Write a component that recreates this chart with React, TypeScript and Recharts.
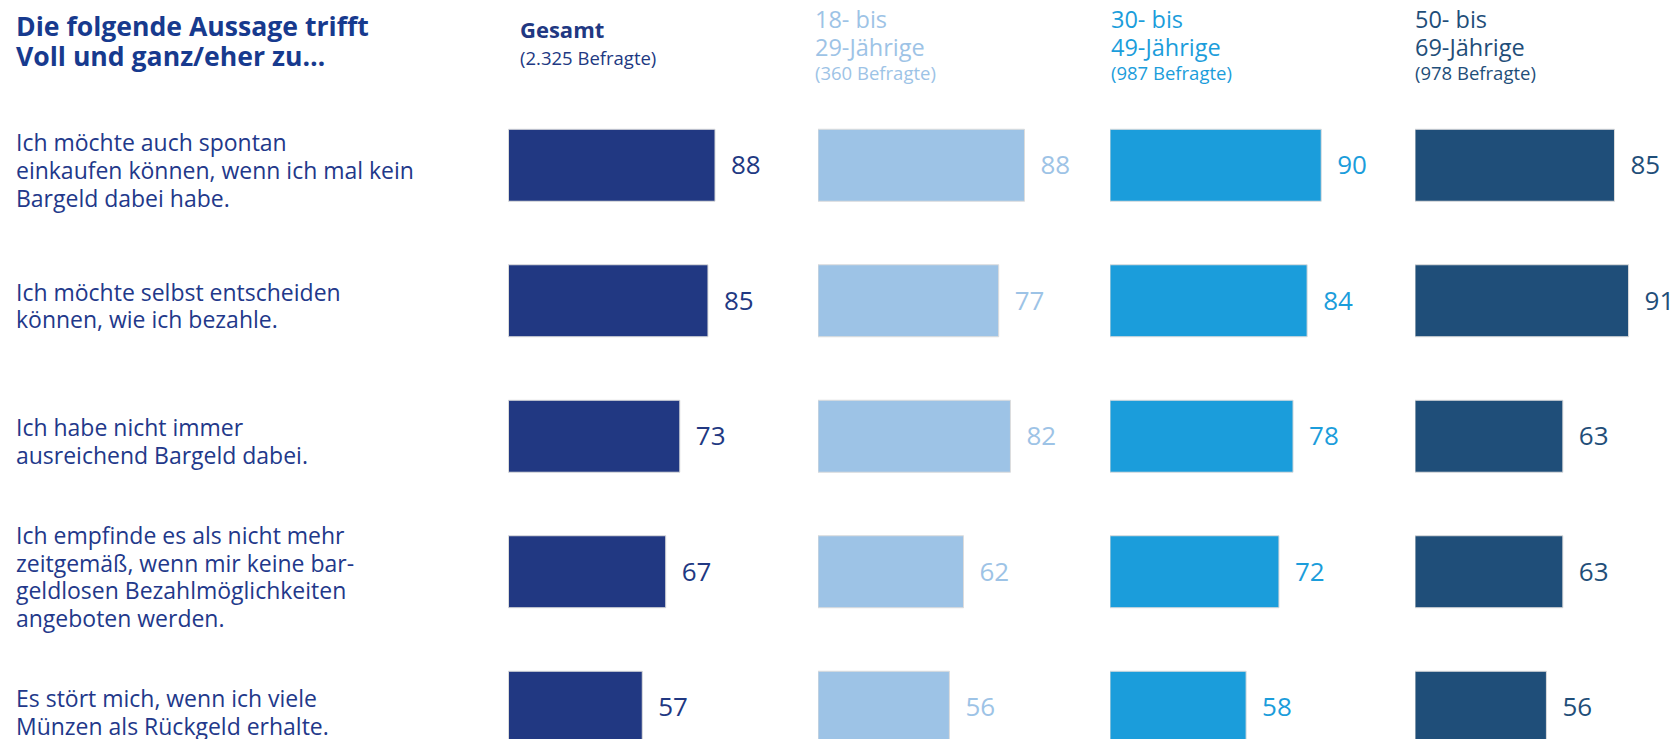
import React from 'react';
import { BarChart, Bar, XAxis, YAxis, LabelList } from 'recharts';

// statements, line breaks as in the original slide
const categories = [
  'Ich möchte auch spontan\neinkaufen können, wenn ich mal kein\nBargeld dabei habe.',
  'Ich möchte selbst entscheiden\nkönnen, wie ich bezahle.',
  'Ich habe nicht immer\nausreichend Bargeld dabei.',
  'Ich empfinde es als nicht mehr\nzeitgemäß, wenn mir keine bar-\ngeldlosen Bezahlmöglichkeiten\nangeboten werden.',
  'Es stört mich, wenn ich viele\nMünzen als Rückgeld erhalte.',
];

const gesamt = [88, 85, 73, 67, 57];
const age18to29 = [88, 77, 82, 62, 56];
const age30to49 = [90, 84, 78, 72, 58];
const age50to69 = [85, 91, 63, 63, 56];

const titleLines = ['Die folgende Aussage trifft', 'Voll und ganz/eher zu…'];
const groupTitles = [['Gesamt'], ['18- bis', '29-Jährige'], ['30- bis', '49-Jährige'], ['50- bis', '69-Jährige']];
const groupCounts = ['(2.325 Befragte)', '(360 Befragte)', '(987 Befragte)', '(978 Befragte)'];

const FONT = '"Open Sans", sans-serif';
const NAVY = '#22388A';

const groups = [
  { values: gesamt, color: '#213882', left: 508.5 },
  { values: age18to29, color: '#9DC3E6', left: 817.5 },
  { values: age30to49, color: '#1B9DDB', left: 1110 },
  { values: age50to69, color: '#1F4E79', left: 1414.5 },
];

const headerLeft = [520, 815, 1111, 1415];

const PLOT_W = 234.7;
const TOP = 97.25;
const BAND = 135.5;
const CHART_H = TOP + BAND * categories.length;

const CategoryTick = ({ y, payload }: any) => {
  const lines = String(payload.value).split('\n');
  const lh = 27.7;
  const startY = y + 5 - ((lines.length - 1) * lh) / 2;
  return (
    <text x={16} y={startY} fill={NAVY} fontSize={23} fontFamily={FONT}>
      {lines.map((l, i) => (
        <tspan key={i} x={16} y={startY + i * lh} dominantBaseline="central">
          {l}
        </tspan>
      ))}
    </text>
  );
};

const App = () => {
  return (
    <div
      style={{
        position: 'relative',
        width: 1675,
        height: 739,
        overflow: 'hidden',
        background: '#fff',
        fontFamily: FONT,
      }}
    >
      <style>{'body{margin:0}'}</style>

      <div
        style={{
          position: 'absolute',
          left: 16,
          top: 10.5,
          fontWeight: 700,
          fontSize: 26.6,
          lineHeight: '30px',
          color: '#173A8E',
          whiteSpace: 'nowrap',
        }}
      >
        {titleLines.map((t) => (
          <div key={t}>{t}</div>
        ))}
      </div>

      {groups.map((g, gi) => {
        const isFirst = gi === 0;
        const data = categories.map((label, i) => ({ label, value: g.values[i] }));
        const chartLeft = isFirst ? 0 : g.left;
        const yWidth = isFirst ? g.left : 0;
        const titleTop = isFirst ? 14 : 5;
        return (
          <React.Fragment key={gi}>
            <div
              style={{
                position: 'absolute',
                left: headerLeft[gi],
                top: titleTop,
                color: g.color,
                fontSize: isFirst ? 22 : 23.5,
                fontWeight: isFirst ? 700 : 400,
                lineHeight: isFirst ? '30px' : '28px',
                whiteSpace: 'nowrap',
              }}
            >
              {groupTitles[gi].map((t) => (
                <div key={t}>{t}</div>
              ))}
            </div>
            <div
              style={{
                position: 'absolute',
                left: headerLeft[gi],
                top: isFirst ? 46 : 60.5,
                color: g.color,
                fontSize: 18.5,
                lineHeight: '24px',
                whiteSpace: 'nowrap',
              }}
            >
              {groupCounts[gi]}
            </div>
            <div style={{ position: 'absolute', left: chartLeft, top: 0 }}>
              <BarChart
                width={yWidth + PLOT_W + 70}
                height={CHART_H}
                data={data}
                layout="vertical"
                margin={{ top: TOP, right: 70, left: 0, bottom: 0 }}
              >
                <XAxis type="number" domain={[0, 100]} hide />
                <YAxis
                  type="category"
                  dataKey="label"
                  width={yWidth}
                  hide={!isFirst}
                  axisLine={false}
                  tickLine={false}
                  tick={<CategoryTick />}
                  interval={0}
                />
                <Bar
                  dataKey="value"
                  fill={g.color}
                  stroke="#dcdcdc"
                  strokeWidth={1}
                  barSize={72}
                  isAnimationActive={false}
                >
                  <LabelList
                    dataKey="value"
                    position="right"
                    offset={16}
                    fill={g.color}
                    fontSize={26}
                    fontFamily={FONT}
                  />
                </Bar>
              </BarChart>
            </div>
          </React.Fragment>
        );
      })}
    </div>
  );
};

export default App;
